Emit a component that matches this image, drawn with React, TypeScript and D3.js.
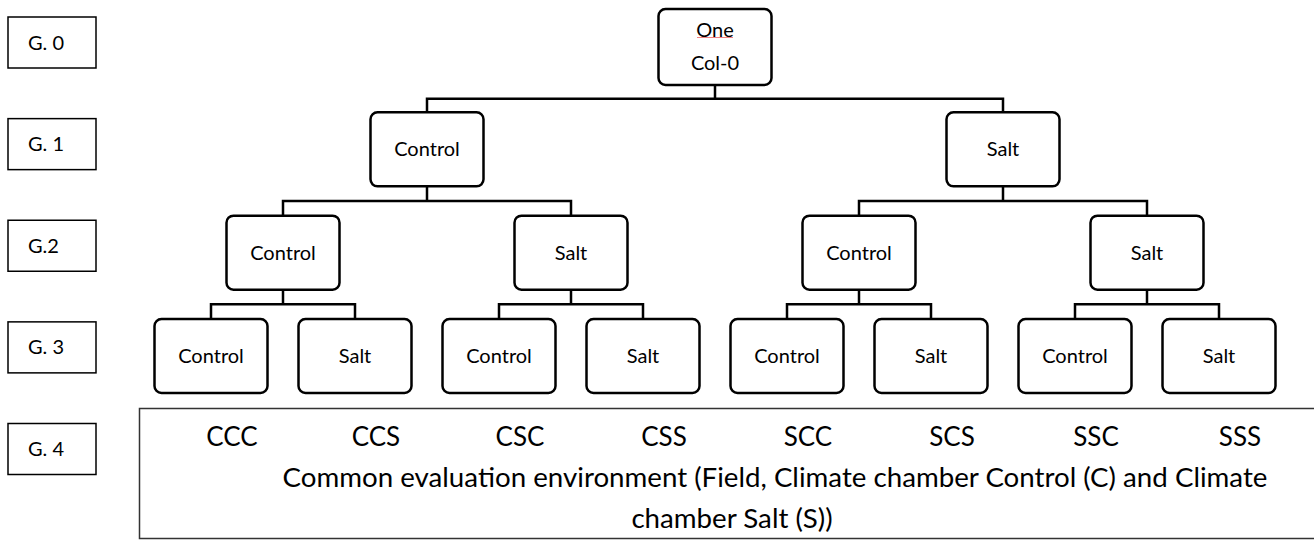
import React, { useRef, useEffect } from 'react';
import * as d3 from 'd3';

// generation labels down the left side
const generations = ['G. 0', 'G. 1', 'G.2', 'G. 3', 'G. 4'];
// the starting line and the two treatments each generation splits into
const rootLabel = ['One', 'Col-0'];
const treatments = ['Control', 'Salt'];
const treatmentDepth = 3;
// offspring codes in the common environment
const combos = ['CCC', 'CCS', 'CSC', 'CSS', 'SCC', 'SCS', 'SSC', 'SSS'];
const envLines = [
  'Common evaluation environment (Field, Climate chamber Control (C) and Climate',
  'chamber Salt (S))',
];

function buildTree(depth) {
  if (depth === treatmentDepth) return [];
  return treatments.map(t => ({ name: t, children: buildTree(depth + 1) }));
}

function App() {
  const ref = useRef(null);

  useEffect(() => {
    drawPedigree();
  }, []);

  function drawPedigree() {
    d3.select(ref.current).selectAll('*').remove();
    const font = 'Lato, "Open Sans", sans-serif';
    const svg = d3.select(ref.current);

    const root = d3.hierarchy({ name: rootLabel.join(' '), children: buildTree(0) });
    d3.tree().nodeSize([144, 1]).separation(() => 1)(root);

    const x = d => d.x + 715;
    const top = d3.scaleLinear().domain([0, treatmentDepth]).range([9, 319]);
    const boxW = 113;
    const boxH = d => (d.depth === 0 ? 76 : 74);

    // connectors
    const links = svg.append('g')
      .attr('fill', 'none')
      .attr('stroke', '#000')
      .attr('stroke-width', 2.5);
    root.descendants().filter(d => d.children).forEach(p => {
      const pb = top(p.depth) + boxH(p);
      const ct = top(p.depth + 1);
      const mid = (pb + ct) / 2;
      const [a, b] = p.children;
      links.append('path')
        .attr('d', `M${x(p)},${pb}V${mid}M${x(a)},${ct}V${mid}H${x(b)}V${ct}`);
    });

    // boxes
    const nodes = svg.append('g')
      .selectAll('g')
      .data(root.descendants())
      .join('g')
      .attr('transform', d => `translate(${x(d)},${top(d.depth)})`);

    nodes.append('rect')
      .attr('x', -boxW / 2)
      .attr('width', boxW)
      .attr('height', boxH)
      .attr('rx', 7)
      .attr('fill', '#fff')
      .attr('stroke', '#000')
      .attr('stroke-width', 2.5);

    nodes.filter(d => d.depth > 0)
      .append('text')
      .attr('y', d => boxH(d) / 2)
      .attr('dy', '0.35em')
      .attr('text-anchor', 'middle')
      .attr('font-family', font)
      .attr('font-size', 20)
      .text(d => d.data.name);

    const rootG = nodes.filter(d => d.depth === 0);
    rootLabel.forEach((t, i) => {
      rootG.append('text')
        .attr('y', i === 0 ? 21 : 54)
        .attr('dy', '0.35em')
        .attr('text-anchor', 'middle')
        .attr('font-family', font)
        .attr('font-size', 20)
        .text(t);
    });
    rootG.append('line')
      .attr('x1', -18).attr('x2', 18)
      .attr('y1', 28.5).attr('y2', 28.5)
      .attr('stroke', '#f08080')
      .attr('stroke-width', 1);

    // generation labels
    const gy = d3.scalePoint().domain(generations).range([42.5, 449]);
    const gen = svg.append('g')
      .selectAll('g')
      .data(generations)
      .join('g')
      .attr('transform', d => `translate(8,${gy(d)})`);
    gen.append('rect')
      .attr('y', -25.5)
      .attr('width', 88)
      .attr('height', 51)
      .attr('fill', 'none')
      .attr('stroke', '#000')
      .attr('stroke-width', 1.5);
    gen.append('text')
      .attr('x', 20)
      .attr('dy', '0.35em')
      .attr('font-family', font)
      .attr('font-size', 20)
      .text(d => d);

    // common environment box
    svg.append('rect')
      .attr('x', 139.5)
      .attr('y', 408.5)
      .attr('width', 1200)
      .attr('height', 130)
      .attr('fill', 'none')
      .attr('stroke', '#333')
      .attr('stroke-width', 1.5);

    const leaves = root.leaves();
    svg.append('g')
      .selectAll('text')
      .data(combos)
      .join('text')
      .attr('x', (d, i) => x(leaves[i]) + 21)
      .attr('y', 446)
      .attr('text-anchor', 'middle')
      .attr('font-family', font)
      .attr('font-size', 26)
      .text(d => d);

    svg.append('g')
      .selectAll('text')
      .data(envLines)
      .join('text')
      .attr('x', (d, i) => (i === 0 ? 775 : 732))
      .attr('y', (d, i) => 487 + i * 41)
      .attr('text-anchor', 'middle')
      .attr('font-family', font)
      .attr('font-size', 27.7)
      .text(d => d);
  }

  return (
    <svg
      ref={ref}
      width={1314}
      height={540}
      style={{ position: 'absolute', left: 0, top: 0, background: '#fff' }}
    />
  );
}

export default App;
